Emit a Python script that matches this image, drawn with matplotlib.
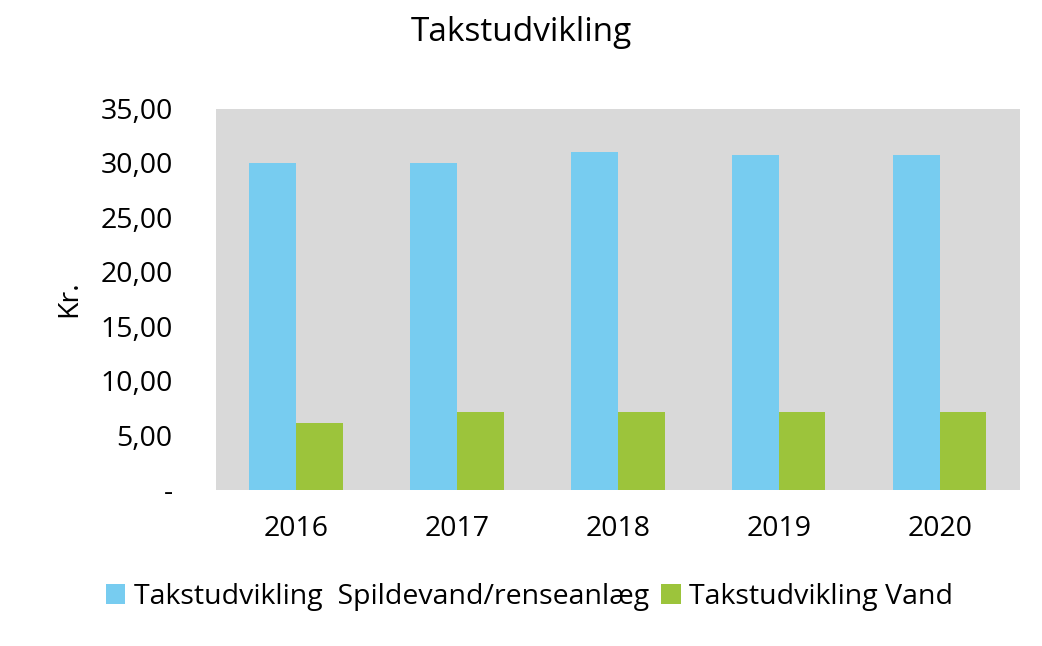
import matplotlib.pyplot as plt
import numpy as np

years = ["2016", "2017", "2018", "2019", "2020"]
spildevand = [30.0, 30.0, 31.0, 30.75, 30.75]
vand = [6.1, 7.1, 7.1, 7.1, 7.1]
yticks = [0, 5, 10, 15, 20, 25, 30, 35]

plt.rcParams['font.family'] = ['Open Sans', 'DejaVu Sans']

fig = plt.figure(figsize=(10.42, 6.46), dpi=100)
ax = fig.add_axes([0.207, 0.242, 0.772, 0.59])
ax.set_facecolor('#D9D9D9')

x = np.arange(len(years))
w = 0.29
ax.bar(x - w / 2, spildevand, w, color='#77CCF0', label='Takstudvikling  Spildevand/renseanlæg')
ax.bar(x + w / 2, vand, w, color='#9CC43B', label='Takstudvikling Vand')

ax.set_xlim(-0.5, len(years) - 0.5)
ax.set_ylim(0, 35)
ax.set_xticks(x)
ax.set_xticklabels(years, fontsize=20.5)
ax.set_yticks(yticks)
ax.set_yticklabels(['-' if v == 0 else f"{v:.2f}".replace('.', ',') for v in yticks], fontsize=20.5)
ax.tick_params(length=0, pad=18)
ax.tick_params(axis='y', pad=31)
for lab in ax.get_yticklabels():
    lab.set_horizontalalignment('right')
for s in ax.spines.values():
    s.set_visible(False)
ax.set_ylabel('Kr.', fontsize=20.5, labelpad=12)

fig.suptitle('Takstudvikling', fontsize=24, y=0.975)
fig.legend(loc='lower center', ncol=2, frameon=False, fontsize=20.5,
           bbox_to_anchor=(0.508, 0.015), handlelength=0.7, handleheight=0.7,
           columnspacing=0.4, handletextpad=0.3)

fig.savefig('out.png', dpi=100)
